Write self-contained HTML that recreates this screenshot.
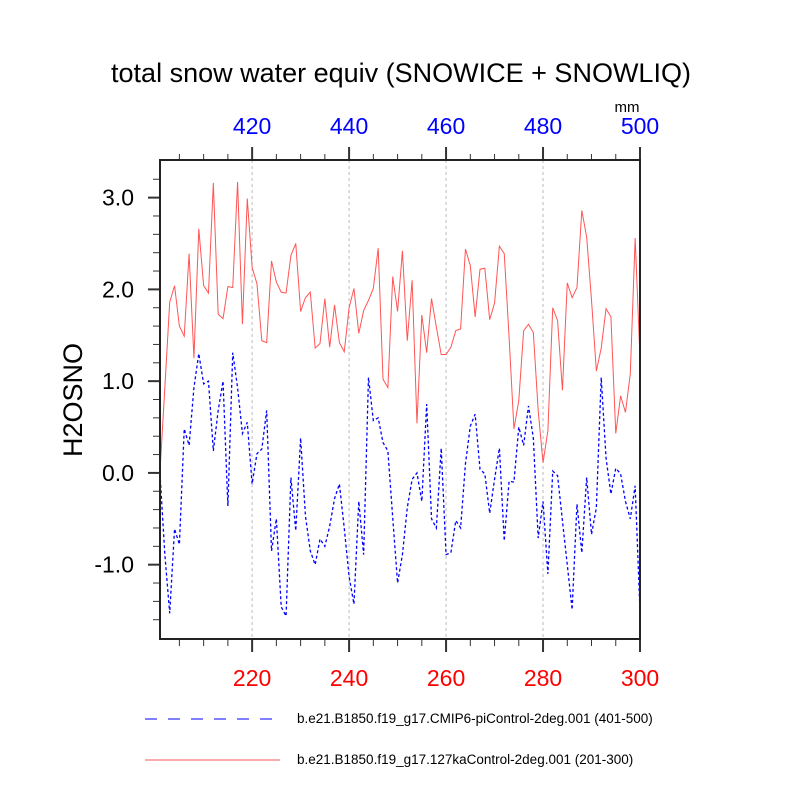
<!DOCTYPE html>
<html><head><meta charset="utf-8"><style>
body{margin:0;background:#fff;}
svg{display:block;font-family:"Liberation Sans",sans-serif;}
</style></head><body>
<svg id="chart" width="800" height="800" viewBox="0 0 800 800">
<text x="401" y="82" text-anchor="middle" font-size="27">total snow water equiv (SNOWICE + SNOWLIQ)</text>
<text x="627" y="112" text-anchor="middle" font-size="15">mm</text>
<text transform="translate(82,400) rotate(-90)" text-anchor="middle" font-size="27">H2OSNO</text>
<g id="grid"></g>
<g id="ticks"></g>
<g id="series"></g>
<rect x="160" y="160" width="480" height="479" fill="none" stroke="#222" stroke-width="2"/>
<g>
<line x1="145" y1="719" x2="277" y2="719" stroke="#00f" stroke-width="1" stroke-dasharray="12,11"/>
<text x="297" y="723" font-size="13.5">b.e21.B1850.f19_g17.CMIP6-piControl-2deg.001 (401-500)</text>
<line x1="145" y1="760" x2="280" y2="760" stroke="#f55" stroke-width="1"/>
<text x="297" y="764" font-size="13.5">b.e21.B1850.f19_g17.127kaControl-2deg.001 (201-300)</text>
</g>
</svg>
<script>
const yearsBottom=[220,240,260,280,300];
const yearsTop=[420,440,460,480,500];
const yTicks=[3.0,2.0,1.0,0.0,-1.0];
const red127ka=[0.02,0.93,1.86,2.04,1.6,1.49,2.39,1.25,2.66,2.04,
1.96,3.16,1.73,1.68,2.03,2.02,3.17,1.62,2.99,2.24,
2.06,1.44,1.42,2.31,2.08,1.97,1.96,2.37,2.5,1.76,
1.91,1.97,1.36,1.41,1.9,1.37,1.83,1.42,1.32,1.8,
2.01,1.52,1.77,1.88,2.01,2.45,1.02,0.93,2.14,1.76,
2.42,1.44,2.1,0.54,1.72,1.31,1.9,1.59,1.29,1.29,
1.37,1.55,1.57,2.44,2.26,1.7,2.22,2.23,1.67,1.85,
2.47,2.39,1.48,0.48,0.79,1.55,1.62,1.53,0.68,0.11,
0.46,1.8,1.66,0.9,2.07,1.91,2.02,2.86,2.57,1.88,
1.11,1.36,1.79,1.7,0.43,0.84,0.66,1.08,2.56,1.25];
const bluePi=[-0.01,-0.89,-1.53,-0.61,-0.78,0.48,0.3,0.93,1.3,0.97,
1.0,0.24,0.68,1.0,-0.36,1.31,0.93,0.43,0.55,-0.12,
0.21,0.26,0.68,-0.85,-0.5,-1.46,-1.56,-0.05,-0.63,0.38,
-0.47,-0.85,-1.0,-0.72,-0.8,-0.58,-0.28,-0.12,-0.6,-1.13,
-1.43,-0.31,-0.89,1.04,0.57,0.6,0.33,0.24,-0.49,-1.2,
-0.89,-0.38,-0.07,0.0,-0.31,0.75,-0.5,-0.6,0.27,-0.89,
-0.87,-0.52,-0.6,0.1,0.51,0.64,0.04,-0.01,-0.44,-0.07,
0.27,-0.74,-0.09,-0.1,0.5,0.3,0.73,0.38,-0.71,-0.31,
-1.1,0.02,-0.03,-0.52,-1.0,-1.49,-0.34,-0.87,-0.05,-0.67,
-0.38,1.04,0.16,-0.23,0.05,-0.01,-0.31,-0.5,-0.14,-1.51];
const NS="http://www.w3.org/2000/svg";
const X0=160,X1=640,Y0=160,Y1=639;
const xMin=201,xMax=300,yMin=-1.81,yMax=3.41;
function xs(v){return X0+(v-xMin)/(xMax-xMin)*(X1-X0);}
function ys(v){return Y1-(v-yMin)/(yMax-yMin)*(Y1-Y0);}
function mk(tag,attrs,parent){const e=document.createElementNS(NS,tag);for(const k in attrs)e.setAttribute(k,attrs[k]);parent.appendChild(e);return e;}
const grid=document.getElementById('grid'),ticks=document.getElementById('ticks'),series=document.getElementById('series'),svg=document.getElementById('chart');
yearsBottom.forEach((yr,i)=>{
  const x=xs(yr);
  if(yr<xMax){const g=mk('line',{x1:x,y1:Y0,x2:x,y2:Y1,stroke:'#bbb','stroke-width':1,'stroke-dasharray':'3,3'},grid);
  
  }
  const t1=mk('text',{x:x,y:686,'text-anchor':'middle','font-size':23,fill:'#f00'},svg);t1.textContent=yr;
  
  
  const t2=mk('text',{x:x,y:134,'text-anchor':'middle','font-size':23,fill:'#00f'},svg);t2.textContent=yearsTop[i];
  
  
});
for(let yr=205;yr<=300;yr+=5){
  const x=xs(yr),maj=yr%20===0;
  mk('line',{x1:x,y1:Y1,x2:x,y2:Y1+(maj?13:7),stroke:'#333','stroke-width':maj?2:1},ticks);
  mk('line',{x1:x,y1:Y0,x2:x,y2:Y0-(maj?13:6),stroke:'#333','stroke-width':maj?2:1},ticks);
}
for(let k=-8;k<=16;k++){
  const v=k*0.2;if(v<yMin||v>yMax)continue;const y=ys(v),maj=k%5===0;
  mk('line',{x1:X0,y1:y,x2:X0-(maj?12:7),y2:y,stroke:'#333','stroke-width':maj?2:1},ticks);
}
yTicks.forEach(v=>{
  const t=mk('text',{x:134,y:ys(v)+8,'text-anchor':'end','font-size':23},svg);t.textContent=v.toFixed(1);
  
  
});
function pts(arr){return arr.map((v,i)=>xs(xMin+i).toFixed(2)+','+ys(v).toFixed(2)).join(' ');}
const r=mk('polyline',{points:pts(red127ka),fill:'none',stroke:'#f55','stroke-width':1},series);


const b=mk('polyline',{points:pts(bluePi),fill:'none',stroke:'#00f','stroke-width':1.3,'stroke-dasharray':'3,2.5'},series);


</script>
</body></html>
